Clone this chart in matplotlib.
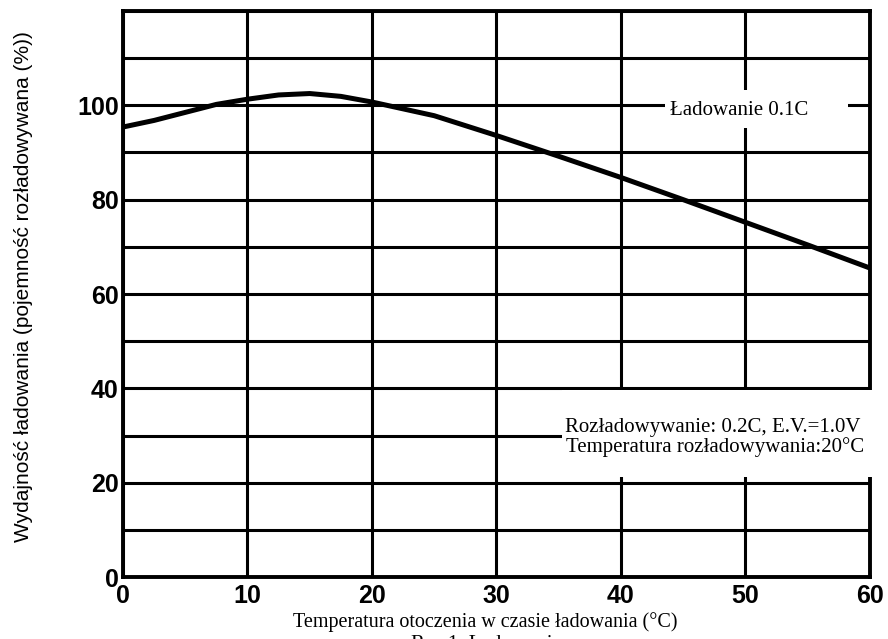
import matplotlib
matplotlib.use("Agg")
import matplotlib.pyplot as plt
from matplotlib.patches import Rectangle

# Wydajność ładowania w funkcji temperatury otoczenia (odczyt z wykresu)
temperatura = [0, 2.5, 5, 7.5, 10, 12.5, 15, 17.5, 20, 25, 30, 35, 40, 45, 50, 55, 60]
wydajnosc = [95.4, 96.8, 98.5, 100.2, 101.3, 102.2, 102.5, 101.9, 100.7,
             97.8, 93.6, 89.2, 84.7, 80.0, 75.2, 70.4, 65.5]

x_ticks = [0, 10, 20, 30, 40, 50, 60]
y_ticks = [0, 10, 20, 30, 40, 50, 60, 70, 80, 90, 100, 110, 120]
y_tick_labels = ['0', '', '20', '', '40', '', '60', '', '80', '', '100', '', '']

opis_ladowania = 'Ładowanie 0.1C'
opis_rozladowania = ['Rozładowywanie: 0.2C, E.V.=1.0V',
                     'Temperatura rozładowywania:20°C']

serif = ['Liberation Serif', 'DejaVu Serif']
sans = ['Liberation Sans', 'DejaVu Sans']
narrow = ['Liberation Sans Narrow', 'Liberation Sans', 'DejaVu Sans']

fig = plt.figure(figsize=(8.88, 6.39), dpi=100)
ax = fig.add_axes([0.1385, 0.097, 0.8412, 0.8858])

ax.plot(temperatura, wydajnosc, color='black', lw=3.6, zorder=3)

ax.set_xlim(0, 60)
ax.set_ylim(0, 120)
ax.set_xticks(x_ticks)
ax.set_yticks(y_ticks)
ax.set_yticklabels(y_tick_labels)
ax.grid(True, color='black', lw=2.2)
ax.tick_params(length=0, labelsize=18)
ax.tick_params(axis='y', pad=3)
ax.tick_params(axis='x', pad=5)
for lbl in ax.get_xticklabels() + ax.get_yticklabels():
    lbl.set_fontfamily(narrow)
    lbl.set_fontweight('bold')
for s in ax.spines.values():
    s.set_linewidth(2.8)

# białe pola pod opisami
ax.add_patch(Rectangle((43.5, 95.1), 14.7, 8.1, facecolor='white',
                       edgecolor='none', zorder=4))
ax.text(43.9, 97.9, opis_ladowania, fontsize=15, family=serif,
        va='baseline', zorder=5)

ax.add_patch(Rectangle((35.3, 21.2), 25.7, 18.5, facecolor='white',
                       edgecolor='none', zorder=4, clip_on=False))
ax.text(35.5, 30.7, opis_rozladowania[0], fontsize=15, family=serif,
        va='baseline', zorder=5)
ax.text(35.6, 26.5, opis_rozladowania[1], fontsize=15, family=serif,
        va='baseline', zorder=5)

fig.text(0.546, 0.0188, 'Temperatura otoczenia w czasie ładowania (°C)',
         ha='center', va='baseline', fontsize=14.5, family=serif)
fig.text(0.548, 0.0063, 'Rys.1. Ładowanie', ha='center', va='top',
         fontsize=15, family=serif)
fig.text(0.027, 0.551, 'Wydajność ładowania (pojemność rozładowywana (%))',
         rotation=90, ha='center', va='center', fontsize=15, family=sans)

fig.savefig('out.png', dpi=100)
